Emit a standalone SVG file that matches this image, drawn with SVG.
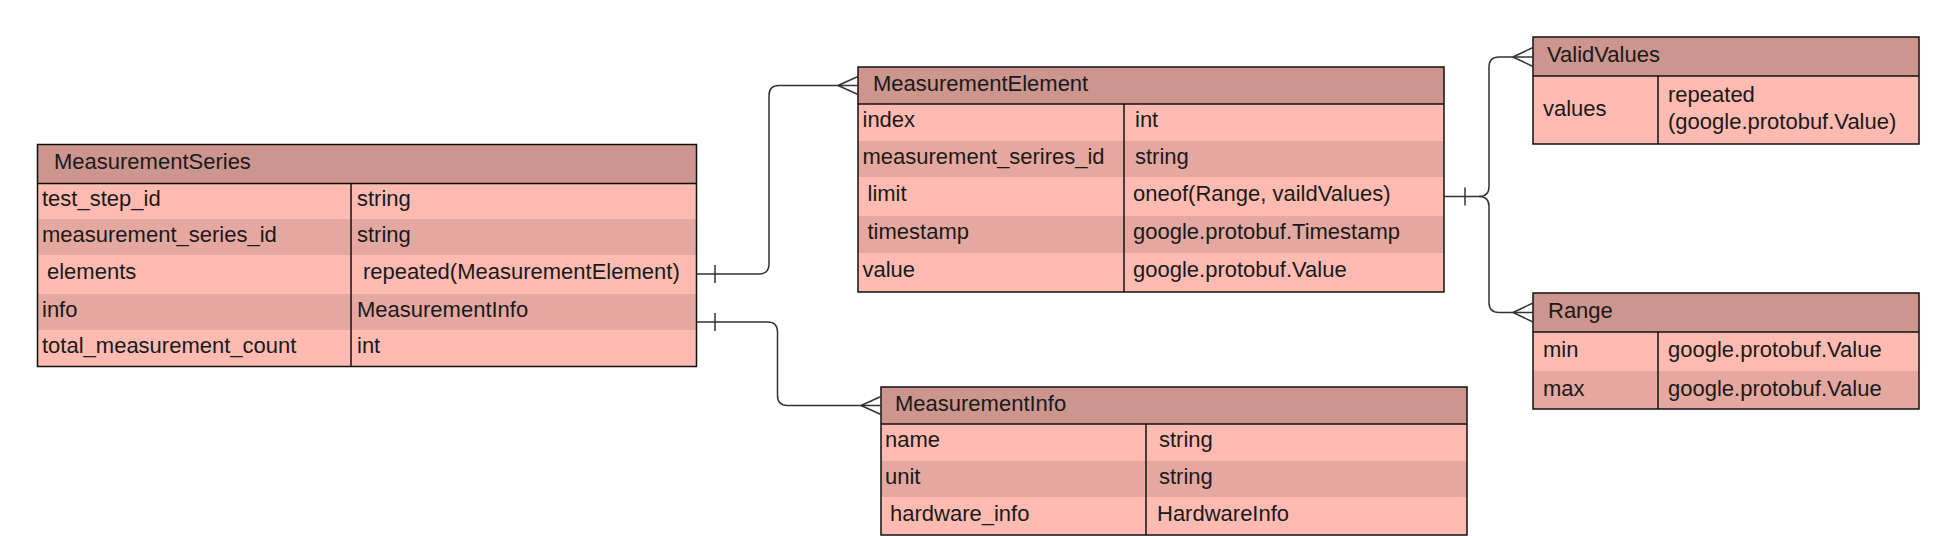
<svg xmlns="http://www.w3.org/2000/svg" width="1943" height="536" viewBox="0 0 1943 536">
<style>
.hd{fill:#CC958E}
.lt{fill:#FFBBB1}
.dk{fill:#E5A8A0}
.bd{fill:none;stroke:#111;stroke-width:1.5}
.dv{stroke:#111;stroke-width:1.5}
text{font-family:"Liberation Sans",Arial,sans-serif;font-size:22px;fill:#1a1a1a}
.cn{fill:none;stroke:#333;stroke-width:1.5}
</style>
<rect width="1943" height="536" fill="#fff"/>
<g id="MeasurementSeries">
<rect class="hd" x="37.5" y="144.5" width="659" height="39"/>
<rect class="lt" x="37.5" y="183.5" width="659" height="35"/>
<rect class="dk" x="37.5" y="218.5" width="659" height="36.5"/>
<rect class="lt" x="37.5" y="255" width="659" height="39"/>
<rect class="dk" x="37.5" y="294" width="659" height="36"/>
<rect class="lt" x="37.5" y="330" width="659" height="36.5"/>
<line class="dv" x1="37.5" y1="183.5" x2="696.5" y2="183.5"/>
<line class="dv" x1="351" y1="183.5" x2="351" y2="366.5"/>
<rect class="bd" x="37.5" y="144.5" width="659" height="222"/>
<text x="54" y="169">MeasurementSeries</text>
<text x="42" y="206">test_step_id</text>
<text x="42" y="241.5">measurement_series_id</text>
<text x="47" y="279">elements</text>
<text x="42" y="316.5">info</text>
<text x="42" y="352.5">total_measurement_count</text>
<text x="357" y="206">string</text>
<text x="357" y="241.5">string</text>
<text x="363" y="279">repeated(MeasurementElement)</text>
<text x="357" y="316.5">MeasurementInfo</text>
<text x="357" y="352.5">int</text>
</g>
<g id="MeasurementElement">
<rect class="hd" x="858" y="67" width="586" height="37"/>
<rect class="lt" x="858" y="104" width="586" height="37"/>
<rect class="dk" x="858" y="141" width="586" height="36"/>
<rect class="lt" x="858" y="177" width="586" height="39"/>
<rect class="dk" x="858" y="216" width="586" height="37"/>
<rect class="lt" x="858" y="253" width="586" height="39"/>
<line class="dv" x1="858" y1="104" x2="1444" y2="104"/>
<line class="dv" x1="1124" y1="104" x2="1124" y2="292"/>
<rect class="bd" x="858" y="67" width="586" height="225"/>
<text x="873" y="90.5">MeasurementElement</text>
<text x="862.5" y="127">index</text>
<text x="862.5" y="163.5">measurement_serires_id</text>
<text x="867.5" y="201">limit</text>
<text x="867.5" y="239">timestamp</text>
<text x="862.5" y="277">value</text>
<text x="1135" y="127">int</text>
<text x="1135" y="163.5">string</text>
<text x="1133" y="201">oneof(Range, vaildValues)</text>
<text x="1133" y="239">google.protobuf.Timestamp</text>
<text x="1133" y="277">google.protobuf.Value</text>
</g>
<g id="MeasurementInfo">
<rect class="hd" x="881" y="387" width="586" height="37"/>
<rect class="lt" x="881" y="424" width="586" height="37"/>
<rect class="dk" x="881" y="461" width="586" height="36"/>
<rect class="lt" x="881" y="497" width="586" height="38"/>
<line class="dv" x1="881" y1="424" x2="1467" y2="424"/>
<line class="dv" x1="1146" y1="424" x2="1146" y2="535"/>
<rect class="bd" x="881" y="387" width="586" height="148"/>
<text x="895" y="410.5">MeasurementInfo</text>
<text x="885" y="447">name</text>
<text x="885" y="483.5">unit</text>
<text x="890" y="520.5">hardware_info</text>
<text x="1159" y="447">string</text>
<text x="1159" y="483.5">string</text>
<text x="1157" y="520.5">HardwareInfo</text>
</g>
<g id="ValidValues">
<rect class="hd" x="1533" y="37" width="386" height="39"/>
<rect class="lt" x="1533" y="76" width="386" height="68"/>
<line class="dv" x1="1533" y1="76" x2="1919" y2="76"/>
<line class="dv" x1="1658" y1="76" x2="1658" y2="144"/>
<rect class="bd" x="1533" y="37" width="386" height="107"/>
<text x="1547" y="62">ValidValues</text>
<text x="1543" y="115.5">values</text>
<text x="1668" y="102">repeated</text>
<text x="1668" y="129">(google.protobuf.Value)</text>
</g>
<g id="Range">
<rect class="hd" x="1533" y="293" width="386" height="39"/>
<rect class="lt" x="1533" y="332" width="386" height="39"/>
<rect class="dk" x="1533" y="371" width="386" height="38"/>
<line class="dv" x1="1533" y1="332" x2="1919" y2="332"/>
<line class="dv" x1="1658" y1="332" x2="1658" y2="409"/>
<rect class="bd" x="1533" y="293" width="386" height="116"/>
<text x="1548" y="318">Range</text>
<text x="1543" y="357">min</text>
<text x="1543" y="395.5">max</text>
<text x="1668" y="357">google.protobuf.Value</text>
<text x="1668" y="395.5">google.protobuf.Value</text>
</g>
<g id="connectors">
<path class="cn" d="M696.5,274 H759 Q769,274 769,264 V95.5 Q769,85.5 779,85.5 H858"/>
<line class="cn" x1="715" y1="265" x2="715" y2="283"/>
<path class="cn" d="M838,85.5 L858,76.5 M838,85.5 L858,94.5"/>
<path class="cn" d="M696.5,322 H767.5 Q777.5,322 777.5,332 V395.5 Q777.5,405.5 787.5,405.5 H881"/>
<line class="cn" x1="715" y1="313" x2="715" y2="331"/>
<path class="cn" d="M861,405.5 L881,396.5 M861,405.5 L881,414.5"/>
<path class="cn" d="M1444,196.5 H1479 Q1489,196.5 1489,186.5 V67 Q1489,57 1499,57 H1533"/>
<path class="cn" d="M1479,196.5 Q1489,196.5 1489,206.5 V302.5 Q1489,312.5 1499,312.5 H1533"/>
<line class="cn" x1="1465" y1="187.5" x2="1465" y2="205.5"/>
<path class="cn" d="M1513,57 L1533,47.5 M1513,57 L1533,66.5"/>
<path class="cn" d="M1513,312.5 L1533,303 M1513,312.5 L1533,322"/>
</g>
</svg>
